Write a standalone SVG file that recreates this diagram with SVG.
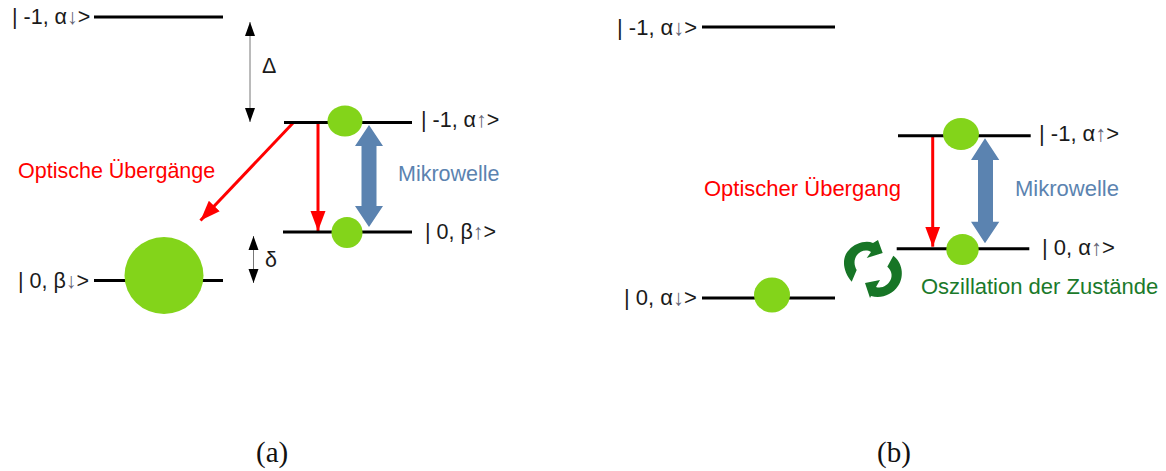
<svg xmlns="http://www.w3.org/2000/svg" width="1166" height="471" viewBox="0 0 1166 471">
<style>
text{font-family:"Liberation Sans",Arial,sans-serif;font-size:21.5px;fill:#1a1a1a}
.b{font-size:22px}
.cap{font-family:"Liberation Serif","Times New Roman",serif;font-size:29px;fill:#111}
.ar{fill:#667}
.lvl{stroke:#000;stroke-width:3;fill:none}
.dot{fill:#83d41a}
.red{stroke:#f00;stroke-width:3;fill:none}
.thin{stroke:#777;stroke-width:1;fill:none}
.blue{fill:#5b83b0}
.rt{fill:#f00}.bt{fill:#5b83b0}.gt{fill:#1b7a2b}
</style>
<defs>
<marker id="rh" markerUnits="userSpaceOnUse" markerWidth="24" markerHeight="24" refX="20" refY="10" orient="auto"><path d="M0 2.500L20 10L0 17.500Z" fill="#f00"/></marker>
<marker id="kh" markerUnits="userSpaceOnUse" markerWidth="16" markerHeight="14" refX="14" refY="6" orient="auto-start-reverse"><path d="M0 1L14 6L0 11Z" fill="#000"/></marker>
</defs>
<g id="connectors">
<path class="red" d="M293 123L200.500 220.500" marker-end="url(#rh)"/>
<path class="red" d="M318 123V231" marker-end="url(#rh)"/>
<path class="red" d="M932.700 136V246.700" marker-end="url(#rh)"/>
<path class="thin" d="M250 22V122" marker-start="url(#kh)" marker-end="url(#kh)"/>
<path class="thin" d="M253.500 236V283" marker-start="url(#kh)" marker-end="url(#kh)"/>
<path class="blue" d="M369 125L383 146H376.500V206H383L369 227L355 206H361.500V146H355Z"/>
<path class="blue" d="M985 138.300L999.300 160H993V221.700H999.300L985 243.300L971 221.700H978V160H971Z"/>
</g>
<g id="a-level-up"><path class="lvl" d="M94 17H223"/><text x="12" y="24">| -1, α<tspan class="ar">↓</tspan>&gt;</text></g>
<g id="a-level-minus"><path class="lvl" d="M284 122.500H412"/><ellipse class="dot" cx="345" cy="121" rx="17.500" ry="15.500"/><text x="421" y="127">| -1, α<tspan class="ar">↑</tspan>&gt;</text></g>
<g id="a-level-zero"><path class="lvl" d="M283 232H412"/><ellipse class="dot" cx="347" cy="232.500" rx="15.500" ry="15.500"/><text x="425" y="239">| 0, β<tspan class="ar">↑</tspan>&gt;</text></g>
<g id="a-level-down"><path class="lvl" d="M94 280.500H223"/><ellipse class="dot" cx="164" cy="275.500" rx="39.500" ry="38.500"/><text x="18" y="288">| 0, β<tspan class="ar">↓</tspan>&gt;</text></g>
<g id="a-labels">
<text x="262" y="73">Δ</text><text x="265" y="267">δ</text>
<text class="rt" x="18" y="178">Optische Übergänge</text>
<text class="bt" x="398" y="181">Mikrowelle</text>
<text class="cap" x="256" y="462">(a)</text>
</g>
<g id="b-level-up"><path class="lvl" d="M702 27H835"/><text class="b" x="617" y="35">| -1, α<tspan class="ar">↓</tspan>&gt;</text></g>
<g id="b-level-minus"><path class="lvl" d="M898 135.700H1030.700"/><ellipse class="dot" cx="961" cy="134" rx="18" ry="16"/><text class="b" x="1039" y="141">| -1, α<tspan class="ar">↑</tspan>&gt;</text></g>
<g id="b-level-zero"><path class="lvl" d="M896.700 248.700H1029.300"/><ellipse class="dot" cx="962.500" cy="249.500" rx="16.200" ry="15.500"/><text class="b" x="1042" y="255">| 0, α<tspan class="ar">↑</tspan>&gt;</text></g>
<g id="b-level-down"><path class="lvl" d="M702 298H835"/><ellipse class="dot" cx="772" cy="295" rx="18" ry="17.500"/><text class="b" x="624" y="305">| 0, α<tspan class="ar">↓</tspan>&gt;</text></g>
<g id="b-labels">
<text class="b rt" x="704" y="196">Optischer Übergang</text>
<text class="b bt" x="1015" y="196">Mikrowelle</text>
<text class="b gt" x="921" y="294">Oszillation der Zustände</text>
<text class="cap" x="877" y="462">(b)</text>
</g>
<g id="cycle" fill="#177526">
<path d="M851.700 281.700C843 272 841 258 849 250C855 243 866 240 873 243L878 240L882.700 253L866.700 258L871 252C866 249 860 251 857 255C853.500 260 854 265 856.700 270Z"/>
<path d="M893.300 255.700C902 262 905 276 898 286C892 295 881 299 871 296L870 298L865 283L880 280L876 287C882 289 888 285 890.500 280C893 275 891 270 887.300 266.700Z"/>
</g>
</svg>
